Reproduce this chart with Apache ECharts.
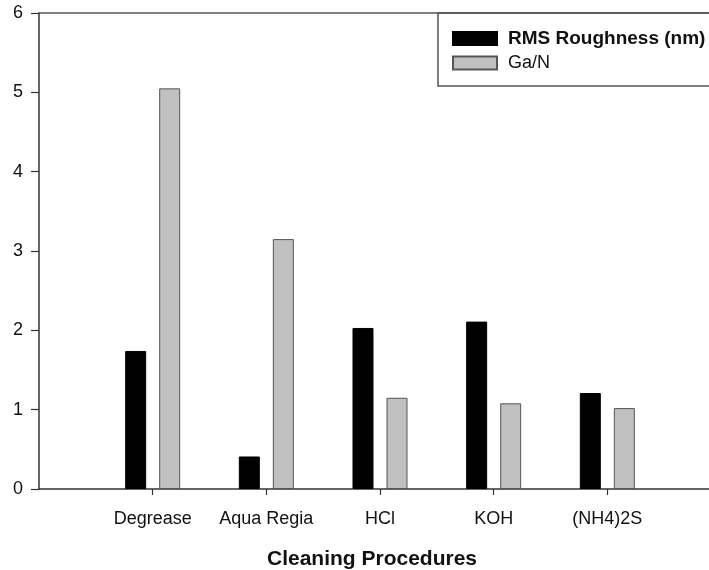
<!DOCTYPE html>
<html>
<head>
<meta charset="utf-8">
<script src="https://cdn.jsdelivr.net/npm/echarts@6/dist/echarts.min.js"></script>
<style>html,body{margin:0;padding:0;background:#fff}#c{width:709px;height:570px}</style>
</head>
<body>
<div id="c"></div>
<script>
const categories = ['Degrease', 'Aqua Regia', 'HCl', 'KOH', '(NH4)2S'];
const rmsRoughness = [1.74, 0.41, 2.03, 2.11, 1.21];
const gaN = [5.05, 3.15, 1.15, 1.08, 1.02];
const yTicks = [0, 1, 2, 3, 4, 5, 6];

const axisCats = [''].concat(categories, ['']);
const pad = arr => [null].concat(arr, [null]);
const font = "'Liberation Sans', Arial, Helvetica, sans-serif";

const chart = echarts.init(document.getElementById('c'), null, {renderer: 'canvas'});
chart.setOption({
  animation: false,
  textStyle: {fontFamily: font},
  grid: {left: 39, top: 13, width: 682, height: 476, containLabel: false, outerBoundsMode: 'none'},
  legend: {
    orient: 'vertical', left: 452, top: 29, itemWidth: 44, itemHeight: 13, itemGap: 6,
    icon: 'rect', padding: 0,
    textStyle: {fontSize: 18, color: '#111', fontFamily: font, padding: [0, 0, 0, 6],
      rich: {b: {fontWeight: 'bold', fontSize: 19, color: '#111', fontFamily: font}}},
    formatter: n => n === 'RMS Roughness (nm)' ? '{b|' + n + '}' : n,
    data: ['RMS Roughness (nm)', 'Ga/N']
  },
  xAxis: {
    type: 'category', data: axisCats, boundaryGap: false,
    axisLine: {lineStyle: {color: '#333', width: 1.5}},
    axisTick: {length: 6, interval: (i, v) => v !== '', lineStyle: {color: '#333', width: 1.2}},
    axisLabel: {interval: 0, margin: 21, fontSize: 18, color: '#111', fontFamily: font},
    name: 'Cleaning Procedures', nameLocation: 'middle', nameGap: 60,
    nameTextStyle: {fontSize: 21, fontWeight: 'bold', color: '#111', fontFamily: font, padding: [0, 16, 0, 0]}
  },
  yAxis: {
    type: 'value', min: yTicks[0], max: yTicks[yTicks.length - 1], interval: 1,
    splitLine: {show: false},
    axisLine: {show: true, lineStyle: {color: '#333', width: 1.5}},
    axisTick: {show: true, length: 8, lineStyle: {color: '#333', width: 1.2}},
    axisLabel: {margin: 16, fontSize: 18, color: '#111', fontFamily: font}
  },
  graphic: [
    {type: 'line', shape: {x1: 39, y1: 13, x2: 709, y2: 13}, style: {stroke: '#555', lineWidth: 1.5}},
    {type: 'rect', shape: {x: 438, y: 13, width: 290, height: 73}, style: {fill: 'none', stroke: '#555', lineWidth: 1.5}}
  ],
  series: [
    {name: 'RMS Roughness (nm)', type: 'bar', data: pad(rmsRoughness), barWidth: 21, barGap: '62%',
      itemStyle: {color: '#000', borderColor: '#000', borderWidth: 1}},
    {name: 'Ga/N', type: 'bar', data: pad(gaN), barWidth: 21,
      itemStyle: {color: '#c0c0c0', borderColor: '#555', borderWidth: 1}}
  ]
});
</script>
</body>
</html>
